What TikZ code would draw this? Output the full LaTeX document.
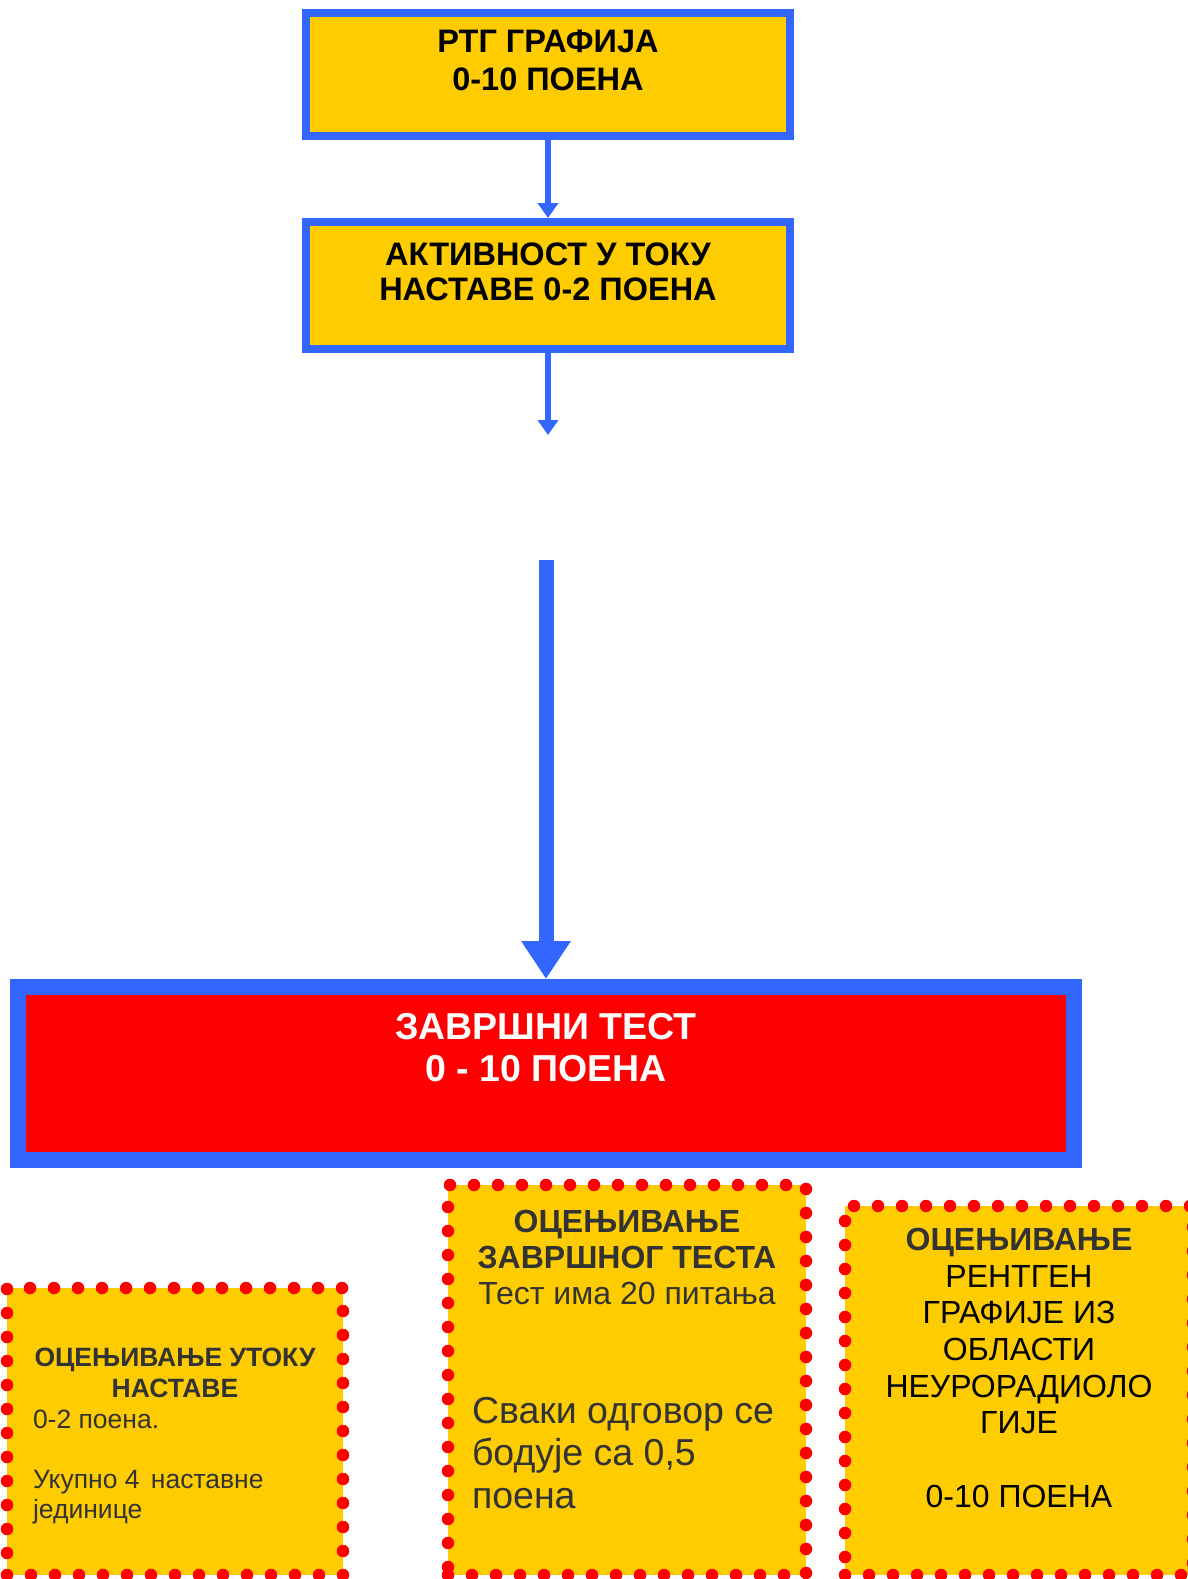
\documentclass[tikz,border=0pt]{standalone}
\usepackage{fontspec}
\setmainfont{Liberation Sans}
\usetikzlibrary{arrows.meta}
\definecolor{myblue}{HTML}{3366FF}
\definecolor{myyellow}{HTML}{FFCC00}
\definecolor{myred}{HTML}{FF0000}
\definecolor{mygray}{HTML}{333333}
\tikzset{
  bluebox/.style={draw=myblue, line width=8pt, fill=myyellow, inner sep=0pt},
  bigbox/.style={draw=myblue, line width=16pt, fill=myred, inner sep=0pt},
  dotbox/.style={draw=myred, fill=myyellow, line width=12.5pt, dash pattern=on 0pt off 24pt, line cap=round, inner sep=0pt},
  thinarrow/.style={draw=myblue, line width=6pt, -{Triangle[width=20pt,length=15pt]}},
  fatarrow/.style={draw=myblue, line width=15pt, -{Triangle[width=47pt,length=38pt]}},
  txt/.style={inner sep=0pt, outer sep=0pt},
}
\begin{document}
\begin{tikzpicture}[x=1pt,y=-1pt]
\useasboundingbox (0,0) rectangle (1187,1579);

% top boxes
\node[bluebox, minimum width=484pt, minimum height=123pt] (b1) at (548,74.5) {};
\node[txt, anchor=north, align=center, font=\fontsize{32.5}{37.5}\selectfont\bfseries] (t1) at (548,30) {РТГ ГРАФИЈА\\0-10 ПОЕНА};

\node[bluebox, minimum width=484pt, minimum height=127pt] (b2) at (548,285.5) {};
\node[txt, anchor=north, align=center, font=\fontsize{32.5}{35}\selectfont\bfseries] (t2) at (548,243) {АКТИВНОСТ У ТОКУ\\НАСТАВЕ 0-2 ПОЕНА};

% final test box
\node[bigbox, minimum width=1056pt, minimum height=173pt] (big) at (546,1073.5) {};
\node[txt, anchor=north, align=center, text=white, font=\fontsize{37.5}{42}\selectfont\bfseries] (tb) at (546,1013) {ЗАВРШНИ ТЕСТ\\0 - 10 ПОЕНА};

% connectors
\coordinate (e2) at (548,435);
\coordinate (s3) at (546,560);
\draw[thinarrow] (b1.south) -- (b2.north);
\draw[thinarrow] (b2.south) -- (e2);
\draw[fatarrow] (s3) -- (big.north);

% bottom dotted boxes
\node[dotbox, minimum width=336pt, minimum height=287pt] (lb) at (175,1431.5) {};
\node[txt, anchor=north, align=center, text=mygray, font=\fontsize{26.5}{31}\selectfont\bfseries] (lt) at (175,1348) {ОЦЕЊИВАЊЕ УТОКУ\\НАСТАВЕ};
\node[txt, anchor=north west, align=left, text=mygray, font=\fontsize{26.5}{30}\selectfont] (lx) at (33,1410) {0-2 поена.\\[30pt]Укупно 4\hspace{0.15em} наставне\\јединице};

\node[dotbox, minimum width=358pt, minimum height=390pt] (mb) at (627,1380) {};
\node[txt, anchor=north, align=center, text=mygray, font=\fontsize{32}{36}\selectfont] (mt) at (627,1210) {\bfseries ОЦЕЊИВАЊЕ\\\bfseries ЗАВРШНОГ ТЕСТА\\Тест има 20 питања};
\node[txt, anchor=north west, align=left, text=mygray, font=\fontsize{37.5}{42.5}\selectfont] (mx) at (472,1397) {Сваки одговор се\\бодује са 0,5\\поена};

\node[dotbox, minimum width=348pt, minimum height=369pt] (rb) at (1019,1390.5) {};
\node[txt, anchor=north, align=center, text=black, font=\fontsize{32}{36.7}\selectfont] (rt) at (1019,1228) {\textcolor{mygray}{\bfseries ОЦЕЊИВАЊЕ}\\РЕНТГЕН\\ГРАФИЈЕ ИЗ\\ОБЛАСТИ\\НЕУРОРАДИОЛО\\ГИЈЕ\\[36.7pt]0-10 ПОЕНА};
\end{tikzpicture}
\end{document}
